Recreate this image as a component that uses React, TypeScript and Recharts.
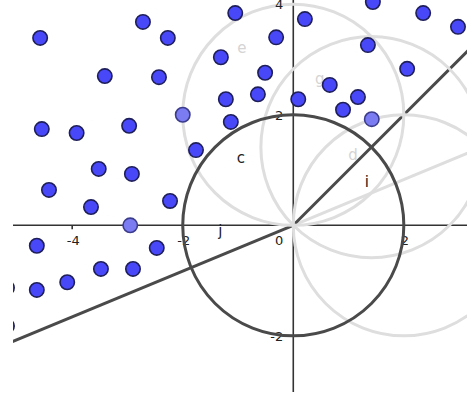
import React from 'react';
import { ComposedChart, XAxis, YAxis, Scatter, ReferenceLine, ReferenceDot } from 'recharts';

// ---- data (coordinates in plot units) ----
const bluePoints = [
  { x: -2.72, y: 3.68 }, { x: -2.27, y: 3.39 }, { x: -4.58, y: 3.39 }, { x: -3.41, y: 2.7 },
  { x: -2.43, y: 2.68 }, { x: -1.31, y: 3.04 }, { x: -1.05, y: 3.84 }, { x: -0.31, y: 3.4 },
  { x: 0.21, y: 3.73 }, { x: 1.44, y: 4.04 }, { x: 2.35, y: 3.84 }, { x: 2.98, y: 3.59 },
  { x: 1.35, y: 3.26 }, { x: 2.06, y: 2.83 }, { x: -0.51, y: 2.76 }, { x: -0.64, y: 2.37 },
  { x: -1.22, y: 2.28 }, { x: 0.09, y: 2.28 }, { x: 0.66, y: 2.54 }, { x: 1.17, y: 2.32 },
  { x: 0.9, y: 2.09 }, { x: -1.13, y: 1.87 }, { x: -4.55, y: 1.74 }, { x: -3.92, y: 1.67 },
  { x: -2.97, y: 1.8 }, { x: -1.76, y: 1.36 }, { x: -3.52, y: 1.02 }, { x: -2.92, y: 0.93 },
  { x: -4.42, y: 0.64 }, { x: -3.66, y: 0.33 }, { x: -2.23, y: 0.44 }, { x: -4.64, y: -0.37 },
  { x: -2.47, y: -0.41 }, { x: -3.48, y: -0.79 }, { x: -2.9, y: -0.79 }, { x: -4.09, y: -1.03 },
  { x: -4.64, y: -1.17 }, { x: -5.18, y: -1.13 }, { x: -5.18, y: -1.82 },
];
const lightPoints = [
  { x: 1.42, y: 1.92 }, { x: -2.0, y: 2.0 }, { x: -2.95, y: 0.0 },
];

const darkCircle = { cx: 0, cy: 0, r: 2 };
const faintCircles = [
  { cx: 0, cy: 2, r: 2 },
  { cx: 1.414, cy: 1.414, r: 2 },
  { cx: 2, cy: 0, r: 2 },
];

const rayI = [{ x: 0, y: 0 }, { x: 6, y: 6 }];
const rayJ = [{ x: 0, y: 0 }, { x: -7, y: -2.9 }];
const faintRays = [
  [{ x: 0, y: 0 }, { x: 7, y: 2.9 }],
];

const xTicks = [-4, -2, 2];
const yTicks = [4, 2, -2];
const xTickLabels = ['-4', '-2', '2'];
const yTickLabels = ['4', '2', '-2'];
const originLabel = '0';

const darkLabels = [
  { text: 'c', x: -0.95, y: 1.22 },
  { text: 'i', x: 1.33, y: 0.78 },
  { text: 'j', x: -1.32, y: -0.1 },
];
const faintLabels = [
  { text: 'e', x: -0.93, y: 3.2 },
  { text: 'g', x: 0.48, y: 2.64 },
  { text: 'd', x: 1.08, y: 1.27 },
];

// ---- layout ----
const W = 467;
const H = 394;
const MARGIN = { top: 0, right: 0, bottom: 2, left: 13 };
const X_DOMAIN: [number, number] = [-5.071, 3.143];
const Y_DOMAIN: [number, number] = [-3.016, 4.076];
const PX = (W - MARGIN.left - MARGIN.right) / (X_DOMAIN[1] - X_DOMAIN[0]);

const FONT = '"DejaVu Sans", sans-serif';
const DARK = '#4a4a4a';
const AXIS = '#333333';
const FAINT = '#dedede';

const textShape = (text: string, dx: number, dy: number, color: string, size: number, anchor: string) =>
  (p: any) => (
    <text x={p.cx + dx} y={p.cy + dy} fill={color} fontSize={size} fontFamily={FONT} textAnchor={anchor}>
      {text}
    </text>
  );

const pointShape = (fill: string, stroke: string) => (p: any) => (
  <circle cx={p.cx} cy={p.cy} r={7.2} fill={fill} stroke={stroke} strokeWidth={1.6} />
);

export default function App() {
  return (
    <div style={{ position: 'absolute', left: 0, top: 0, background: '#fff' }}>
      <ComposedChart width={W} height={H} margin={MARGIN}>
        <XAxis type="number" dataKey="x" domain={X_DOMAIN} allowDataOverflow hide />
        <YAxis type="number" dataKey="y" domain={Y_DOMAIN} allowDataOverflow hide />

        {faintCircles.map((c, i) => (
          <ReferenceDot key={'fc' + i} x={c.cx} y={c.cy} r={c.r * PX} fill="none" stroke={FAINT} strokeWidth={3} ifOverflow="visible" />
        ))}
        {faintRays.map((s, i) => (
          <ReferenceLine key={'fr' + i} segment={s} stroke={FAINT} strokeWidth={3} ifOverflow="hidden" />
        ))}
        {faintLabels.map((l, i) => (
          <ReferenceDot key={'fl' + i} x={l.x} y={l.y} r={1} shape={textShape(l.text, 0, 5, '#d4d4d4', 15, 'middle')} ifOverflow="visible" />
        ))}

        <ReferenceLine y={0} stroke={AXIS} strokeWidth={1.6} />
        <ReferenceLine x={0} stroke={AXIS} strokeWidth={1.6} />
        {xTicks.map((t, i) => (
          <ReferenceLine key={'xt' + i} segment={[{ x: t, y: 0 }, { x: t, y: -0.07 }]} stroke={AXIS} strokeWidth={1.6} />
        ))}
        {yTicks.map((t, i) => (
          <ReferenceLine key={'yt' + i} segment={[{ x: 0, y: t }, { x: -0.07, y: t }]} stroke={AXIS} strokeWidth={1.6} ifOverflow="visible" />
        ))}
        {xTicks.map((t, i) => (
          <ReferenceDot key={'xl' + i} x={t} y={0} r={1} shape={textShape(xTickLabels[i], 1, 20, '#222', 13, 'middle')} />
        ))}
        {yTicks.map((t, i) => (
          <ReferenceDot key={'yl' + i} x={0} y={t} r={1} shape={textShape(yTickLabels[i], -10, 5, '#222', 13, 'end')} ifOverflow="visible" />
        ))}
        <ReferenceDot x={0} y={0} r={1} shape={textShape(originLabel, -10, 20, '#222', 13, 'end')} />

        <ReferenceDot x={darkCircle.cx} y={darkCircle.cy} r={darkCircle.r * PX} fill="none" stroke={DARK} strokeWidth={3} ifOverflow="visible" />
        <ReferenceLine segment={rayI} stroke={DARK} strokeWidth={3} ifOverflow="hidden" />
        <ReferenceLine segment={rayJ} stroke={DARK} strokeWidth={3} ifOverflow="hidden" />
        {darkLabels.map((l, i) => (
          <ReferenceDot key={'dl' + i} x={l.x} y={l.y} r={1} shape={textShape(l.text, 0, 5, '#222', 15, 'middle')} ifOverflow="visible" />
        ))}

        <Scatter data={bluePoints} isAnimationActive={false} shape={pointShape('#4848f8', '#1e1e5a')} />
        <Scatter data={lightPoints} isAnimationActive={false} shape={pointShape('#7c7cf2', '#3c3c8c')} />
      </ComposedChart>
    </div>
  );
}
